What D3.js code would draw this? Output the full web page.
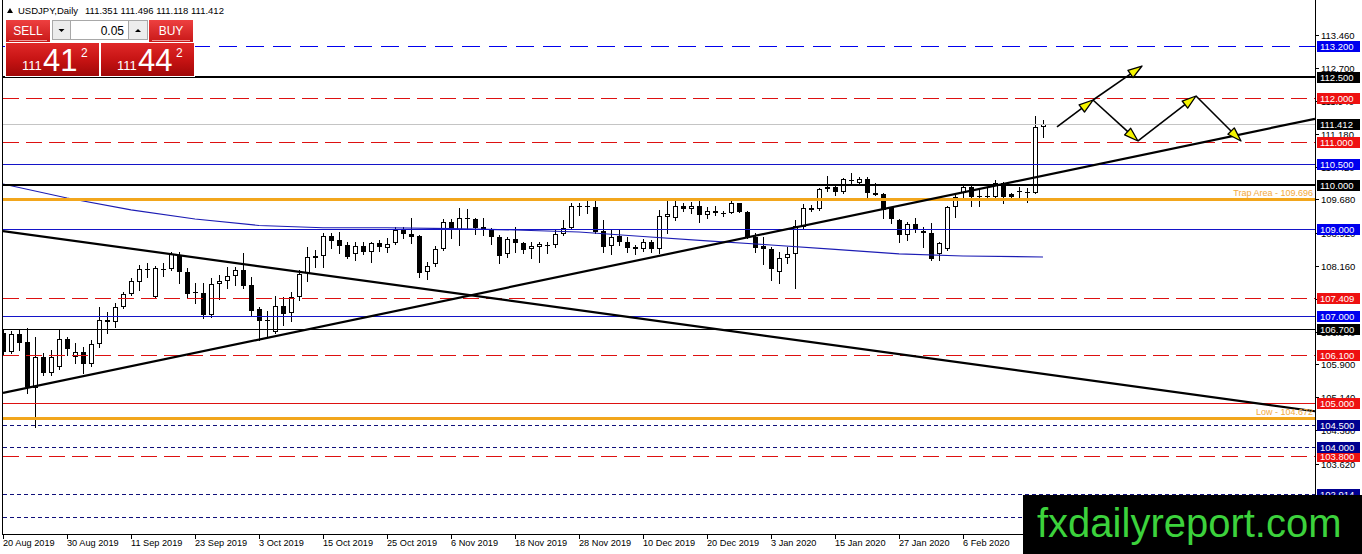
<!DOCTYPE html>
<html>
<head>
<meta charset="utf-8">
<script src="https://cdn.jsdelivr.net/npm/d3@7"></script>
<style>
  body { margin: 0; background: #fff; }
  svg { display: block; font-family: "Liberation Sans", Arial, sans-serif; }
</style>
</head>
<body>
<div id="chart"></div>
<script>
// Data (USDJPY daily, 20 Aug 2019 - 20 Feb 2020)
const opens = [106.625, 106.190, 106.588, 106.404, 105.349, 106.074, 105.707, 105.845, 106.473, 106.074,
  106.190, 105.900, 106.358, 106.916, 106.863, 107.207, 107.505, 107.794, 108.062, 107.436,
  108.092, 108.078, 108.413, 108.023, 107.558, 107.542, 107.030, 107.734, 107.810, 107.925,
  108.062, 107.718, 107.161, 106.900, 106.647, 107.244, 107.069, 107.450, 107.986, 108.331,
  108.383, 108.849, 108.750, 108.636, 108.422, 108.613, 108.468, 108.675, 108.574, 108.675,
  108.980, 108.881, 108.849, 108.010, 108.200, 108.537, 109.156, 108.980, 109.262, 109.225,
  109.042, 108.996, 108.826, 108.422, 108.773, 108.675, 108.537, 108.590, 108.624, 108.636,
  108.881, 109.019, 109.530, 109.523, 109.500, 108.957, 108.613, 108.842, 108.711, 108.583,
  108.537, 108.711, 108.537, 109.285, 109.248, 109.530, 109.461, 109.530, 109.324, 109.422,
  109.363, 109.377, 109.592, 109.400, 108.826, 108.613, 108.537, 108.023, 108.331, 108.422,
  109.055, 109.491, 109.454, 109.913, 109.973, 109.858, 110.127, 110.051, 110.143, 109.835,
  109.798, 109.477, 109.209, 108.865, 109.110, 108.957, 108.918, 108.429, 108.537, 109.500,
  109.835, 109.959, 109.760, 109.744, 109.744, 110.051, 109.798, 109.858, 109.844, 109.835,
  111.351];
const highs = [106.686, 106.663, 106.686, 106.725, 106.526, 106.159, 106.227, 106.686, 106.519, 106.395,
  106.289, 106.457, 107.221, 107.106, 107.299, 107.565, 107.872, 108.177, 108.230, 108.154,
  108.223, 108.475, 108.475, 108.108, 107.771, 107.764, 107.872, 107.948, 108.138, 108.138,
  108.459, 107.895, 107.221, 107.122, 107.466, 107.450, 107.565, 108.062, 108.597, 108.521,
  108.904, 108.904, 108.927, 108.711, 108.711, 108.711, 108.711, 108.750, 108.789, 109.055,
  109.055, 109.262, 108.865, 108.253, 108.620, 109.232, 109.232, 109.477, 109.461, 109.262,
  109.262, 109.019, 108.865, 108.826, 109.055, 108.711, 108.711, 108.711, 108.711, 108.980,
  109.209, 109.592, 109.592, 109.668, 109.668, 109.209, 108.980, 108.980, 108.826, 108.636,
  108.766, 108.750, 109.438, 109.668, 109.668, 109.592, 109.629, 109.668, 109.514, 109.530,
  109.422, 109.668, 109.606, 109.422, 108.904, 108.826, 108.597, 108.482, 108.597, 109.209,
  109.576, 109.553, 109.936, 110.218, 110.012, 110.166, 110.280, 110.202, 110.202, 110.065,
  109.835, 109.514, 109.225, 109.170, 109.248, 109.055, 109.133, 108.711, 109.530, 109.821,
  110.012, 110.012, 109.936, 109.959, 110.127, 110.088, 109.821, 109.959, 109.936, 111.594,
  111.496];
const lows = [106.113, 106.160, 106.227, 105.234, 104.450, 105.654, 105.654, 105.785, 106.113, 105.922,
  105.707, 105.861, 106.303, 106.610, 106.748, 107.184, 107.489, 107.604, 107.895, 107.420,
  107.925, 108.062, 107.771, 107.443, 107.299, 106.955, 106.978, 107.390, 107.643, 107.718,
  107.643, 107.030, 106.457, 106.532, 106.617, 106.801, 106.900, 107.374, 107.810, 108.138,
  108.138, 108.560, 108.445, 108.338, 108.292, 108.422, 108.253, 108.498, 108.482, 108.652,
  108.803, 108.675, 107.909, 107.856, 108.154, 108.520, 108.803, 108.636, 109.019, 108.881,
  108.865, 108.652, 108.230, 108.367, 108.468, 108.445, 108.331, 108.253, 108.445, 108.597,
  108.865, 108.996, 109.324, 109.377, 108.904, 108.482, 108.429, 108.636, 108.482, 108.429,
  108.505, 108.482, 108.445, 108.918, 109.209, 109.422, 109.377, 109.170, 109.248, 109.324,
  109.301, 109.363, 109.386, 108.789, 108.482, 108.200, 107.833, 107.757, 108.216, 107.643,
  109.025, 109.416, 109.438, 109.881, 109.782, 109.821, 110.051, 110.035, 109.744, 109.771,
  109.248, 109.147, 108.711, 108.750, 108.941, 108.583, 108.292, 108.292, 108.521, 109.285,
  109.744, 109.530, 109.530, 109.707, 109.729, 109.606, 109.729, 109.707, 109.629, 109.821,
  111.118];
const closes = [106.190, 106.595, 106.395, 105.386, 106.074, 105.693, 106.074, 106.473, 106.243, 106.190,
  105.900, 106.358, 106.916, 106.877, 107.221, 107.512, 107.817, 108.078, 108.074, 108.101,
  108.069, 108.422, 108.010, 107.512, 107.535, 107.030, 107.741, 107.817, 107.925, 108.062,
  107.695, 107.129, 106.893, 106.916, 107.244, 107.053, 107.450, 107.971, 108.354, 108.383,
  108.849, 108.734, 108.613, 108.367, 108.613, 108.468, 108.675, 108.597, 108.652, 108.980,
  108.881, 108.826, 107.986, 108.154, 108.537, 109.156, 108.980, 109.262, 109.250, 109.032,
  108.996, 108.812, 108.390, 108.766, 108.675, 108.521, 108.613, 108.659, 108.636, 108.881,
  109.019, 109.530, 109.519, 109.530, 108.941, 108.597, 108.826, 108.711, 108.560, 108.537,
  108.711, 108.537, 109.301, 109.347, 109.530, 109.461, 109.530, 109.324, 109.422, 109.363,
  109.370, 109.592, 109.400, 108.826, 108.560, 108.537, 108.078, 108.331, 108.422, 109.071,
  109.477, 109.438, 109.913, 109.959, 109.858, 110.143, 110.120, 110.149, 109.835, 109.782,
  109.438, 109.225, 108.865, 109.110, 108.980, 108.918, 108.308, 108.675, 109.500, 109.744,
  109.959, 109.729, 109.729, 109.753, 110.051, 109.744, 109.744, 109.862, 109.851, 111.351,
  111.412];

// Date labels on the time axis and the bar they belong to
const dateLabels = ['20 Aug 2019', '30 Aug 2019', '11 Sep 2019', '23 Sep 2019', '3 Oct 2019', '15 Oct 2019',
  '25 Oct 2019', '6 Nov 2019', '18 Nov 2019', '28 Nov 2019', '10 Dec 2019', '20 Dec 2019',
  '3 Jan 2020', '15 Jan 2020', '27 Jan 2020', '6 Feb 2020'];
const dateBars = [0, 8, 16, 24, 32, 40, 48, 56, 64, 72, 80, 88, 96, 104, 112, 120];

// Price axis ticks
const priceTicks = [113.46, 112.70, 111.94, 111.18, 110.42, 109.68, 108.92, 108.16, 107.40, 106.64,
  105.90, 105.14, 104.38, 103.62, 102.86];

// Moving average, read at the label bars
const maBars = [0, 8, 16, 24, 32, 40, 48, 56, 64, 72, 80, 88, 96, 104, 112, 120, 130];
const maValues = [110.035, 109.714, 109.440, 109.232, 109.083, 109.030, 109.030, 109.010, 108.980,
  108.934, 108.830, 108.728, 108.636, 108.533, 108.430, 108.383, 108.360];

// Horizontal levels
const blueDashLevels = [113.2];
const blackThickLevels = [112.5, 110.0];
const redDashLevels = [112.0, 111.0, 107.409, 106.1, 103.8];
const currentPrice = [111.412];
const blueLevels = [110.5, 109.0, 107.0];
const blackThinLevels = [106.7];
const redSolidLevels = [105.0];
const navyDotLevels = [104.5, 104.0, 102.914, 102.4];
const orangeLevels = [109.696, 104.672];
const orangeNames = ['Trap Area', 'Low'];

// Trend lines: two anchor bars and prices each
const trendBars = [0, 130];
const trendUpPrices = [105.239, 110.226];
const trendDownPrices = [108.954, 105.677];

// Projected path arrows (bar, price) pairs
const arrowFromBar = [131.75, 136.25, 136.25, 141.875, 149.125];
const arrowFromPrice = [111.342, 111.961, 111.961, 111.021, 112.053];
const arrowToBar = [136.25, 142.375, 141.875, 149.125, 154.75];
const arrowToPrice = [111.961, 112.741, 111.021, 112.053, 111.021];

// Header and trade panel text
const symbolTitle = 'USDJPY,Daily';
const ohlcTitle = '111.351 111.496 111.118 111.412';
const lotSize = '0.05';
const quoteBig = ['111', '41', '2', '111', '44', '2'];

const W = 1362, H = 554;
const plotLeft = 3, plotRight = 1315, plotBottom = 534;

const svg = d3.select('#chart').append('svg')
    .attr('width', W)
    .attr('height', H);

const x = d3.scaleLinear().domain([0, 130]).range([3, 1043]);
const y = d3.scaleLinear().domain([104, 113.2]).range([447, 46]);
const fmt = d3.format('.3f');

svg.append('defs').append('clipPath').attr('id', 'plot-clip')
    .append('rect')
    .attr('x', plotLeft).attr('y', 0)
    .attr('width', plotRight - plotLeft).attr('height', plotBottom);

const plot = svg.append('g').attr('clip-path', 'url(#plot-clip)');

// Candles
const bars = d3.range(closes.length).map(i => ({ i, o: opens[i], h: highs[i], l: lows[i], c: closes[i] }));
bars.forEach(d => {
    d.cx = Math.round(x(d.i));
    d.top = Math.round(y(Math.max(d.o, d.c)));
    d.bot = Math.round(y(Math.min(d.o, d.c)));
});

const candles = plot.append('g').attr('shape-rendering', 'crispEdges');

candles.selectAll('.wick')
    .data(bars)
    .enter().append('line')
    .attr('class', 'wick')
    .attr('x1', d => d.cx + 0.5)
    .attr('x2', d => d.cx + 0.5)
    .attr('y1', d => Math.round(y(d.h)))
    .attr('y2', d => Math.round(y(d.l)) + 1)
    .attr('stroke', '#000');

candles.selectAll('.doji')
    .data(bars.filter(d => d.bot - d.top < 2))
    .enter().append('rect')
    .attr('class', 'doji')
    .attr('x', d => d.cx - 2)
    .attr('y', d => d.top)
    .attr('width', 5)
    .attr('height', d => Math.max(d.bot - d.top, 1))
    .attr('fill', '#000');

candles.selectAll('.bull')
    .data(bars.filter(d => d.bot - d.top >= 2 && d.c >= d.o))
    .enter().append('rect')
    .attr('class', 'bull')
    .attr('x', d => d.cx - 1.5)
    .attr('y', d => d.top + 0.5)
    .attr('width', 4)
    .attr('height', d => d.bot - d.top - 1)
    .attr('fill', '#fff')
    .attr('stroke', '#000');

candles.selectAll('.bear')
    .data(bars.filter(d => d.bot - d.top >= 2 && d.c < d.o))
    .enter().append('rect')
    .attr('class', 'bear')
    .attr('x', d => d.cx - 2)
    .attr('y', d => d.top)
    .attr('width', 5)
    .attr('height', d => d.bot - d.top)
    .attr('fill', '#000');

// Moving average
plot.append('path')
    .datum(maBars.map((b, k) => [b, maValues[k]]))
    .attr('fill', 'none')
    .attr('stroke', '#1c1cb4')
    .attr('stroke-width', 1.1)
    .attr('d', d3.line().x(d => x(d[0])).y(d => y(d[1])));

// Horizontal levels
function drawLevels(levels, color, width, dash) {
    plot.selectAll(null)
        .data(levels)
        .enter().append('line')
        .attr('x1', plotLeft)
        .attr('x2', plotRight)
        .attr('y1', d => Math.round(y(d)) + (width % 2 ? 0.5 : 0))
        .attr('y2', d => Math.round(y(d)) + (width % 2 ? 0.5 : 0))
        .attr('stroke', color)
        .attr('stroke-width', width)
        .attr('stroke-dasharray', dash)
        .attr('shape-rendering', 'crispEdges');
}

drawLevels(currentPrice, '#c4c4c4', 1, null);
drawLevels(blueDashLevels, '#0000ee', 1, '18,9');
drawLevels(redDashLevels, '#dd1111', 1, '16,7');
drawLevels(blueLevels, '#1414c8', 1, null);
drawLevels(blackThinLevels, '#000', 1, null);
drawLevels(redSolidLevels, '#dd1111', 1, null);
drawLevels(navyDotLevels, '#10107a', 1, '4,3');
drawLevels(blackThickLevels, '#000', 2, null);
drawLevels(orangeLevels, '#f2a61c', 3, null);

// Trend lines, extended across the chart
function drawTrend(prices) {
    const slope = (prices[1] - prices[0]) / (trendBars[1] - trendBars[0]);
    const b0 = x.invert(plotLeft), b1 = x.invert(plotRight);
    plot.append('line')
        .attr('x1', x(b0))
        .attr('y1', y(prices[0] + slope * (b0 - trendBars[0])))
        .attr('x2', x(b1))
        .attr('y2', y(prices[0] + slope * (b1 - trendBars[0])))
        .attr('stroke', '#000')
        .attr('stroke-width', 2.2);
}
drawTrend(trendUpPrices);
drawTrend(trendDownPrices);

// Level captions
plot.selectAll('.caption')
    .data(orangeLevels)
    .enter().append('text')
    .attr('class', 'caption')
    .attr('x', plotRight - 2)
    .attr('y', d => Math.round(y(d)) - 3)
    .attr('text-anchor', 'end')
    .style('font-size', '9px')
    .attr('fill', '#f2a93a')
    .text((d, k) => `${orangeNames[k]} - ${fmt(d)}`);

// Arrows
const arrows = svg.append('g');
arrowFromBar.forEach((b, k) => {
    const ax = x(b), ay = y(arrowFromPrice[k]);
    const bx = x(arrowToBar[k]), by = y(arrowToPrice[k]);
    const len = Math.hypot(bx - ax, by - ay);
    const ux = (bx - ax) / len, uy = (by - ay) / len;
    const hl = 14, hw = 4.5;
    const baseX = bx - ux * hl, baseY = by - uy * hl;
    arrows.append('line')
        .attr('x1', ax).attr('y1', ay)
        .attr('x2', baseX + ux * 2).attr('y2', baseY + uy * 2)
        .attr('stroke', '#000')
        .attr('stroke-width', 1.6);
    arrows.append('polygon')
        .attr('points', [[bx, by], [baseX - uy * hw, baseY + ux * hw], [baseX + uy * hw, baseY - ux * hw]].map(p => p.join(',')).join(' '))
        .attr('fill', '#f4f400')
        .attr('stroke', '#000')
        .attr('stroke-width', 1.3)
        .attr('stroke-linejoin', 'round');
});

// Frame and axes
svg.append('line')
    .attr('x1', 2.5).attr('x2', 2.5).attr('y1', 0).attr('y2', plotBottom)
    .attr('stroke', '#000');
svg.append('line')
    .attr('x1', plotRight + 0.5).attr('x2', plotRight + 0.5).attr('y1', 0).attr('y2', plotBottom + 1)
    .attr('stroke', '#000');
svg.append('line')
    .attr('x1', 2).attr('x2', plotRight + 1).attr('y1', plotBottom + 0.5).attr('y2', plotBottom + 0.5)
    .attr('stroke', '#000');

const timeAxis = svg.append('g');
timeAxis.selectAll('line')
    .data(dateBars)
    .enter().append('line')
    .attr('x1', d => Math.round(x(d)) + 0.5)
    .attr('x2', d => Math.round(x(d)) + 0.5)
    .attr('y1', plotBottom)
    .attr('y2', plotBottom + 5)
    .attr('stroke', '#000');
timeAxis.selectAll('text')
    .data(dateBars)
    .enter().append('text')
    .attr('x', d => x(d))
    .attr('y', 546)
    .style('font-size', '9.2px')
    .attr('fill', '#000')
    .text((d, k) => dateLabels[k]);

const priceAxis = svg.append('g');
priceAxis.selectAll('line')
    .data(priceTicks)
    .enter().append('line')
    .attr('x1', plotRight)
    .attr('x2', plotRight + 4)
    .attr('y1', d => Math.round(y(d)) + 0.5)
    .attr('y2', d => Math.round(y(d)) + 0.5)
    .attr('stroke', '#000');
priceAxis.selectAll('text')
    .data(priceTicks)
    .enter().append('text')
    .attr('x', plotRight + 6)
    .attr('y', d => Math.round(y(d)) + 4)
    .style('font-size', '9.5px')
    .attr('fill', '#000')
    .text(d => fmt(d));

// Price tags on the axis
function drawTags(levels, bg) {
    const tags = svg.append('g').selectAll('g')
        .data(levels)
        .enter().append('g');
    tags.append('rect')
        .attr('x', plotRight + 2)
        .attr('y', d => Math.round(y(d)) - 5)
        .attr('width', 43)
        .attr('height', 11)
        .attr('fill', bg);
    tags.append('text')
        .attr('x', plotRight + 5)
        .attr('y', d => Math.round(y(d)) + 4)
        .style('font-size', '9.5px')
        .attr('fill', '#fff')
        .text(d => fmt(d));
}
drawTags(blueDashLevels, '#0000ee');
drawTags(blackThickLevels, '#000');
drawTags(redDashLevels, '#ee1111');
drawTags(currentPrice, '#000');
drawTags(blueLevels, '#0000ee');
drawTags(blackThinLevels, '#000');
drawTags(redSolidLevels, '#ee1111');
drawTags(navyDotLevels, '#000090');

// Title
svg.append('path')
    .attr('d', 'M7,13 L10,8 L13,13 Z')
    .attr('fill', '#000');
svg.append('text')
    .attr('x', 18).attr('y', 14)
    .style('font-size', '9.5px')
    .text(symbolTitle);
svg.append('text')
    .attr('x', 85).attr('y', 14)
    .style('font-size', '9.5px')
    .text(ohlcTitle);

// One-click trading panel
const defs = svg.select('defs');
const g1 = defs.append('linearGradient').attr('id', 'btnRed').attr('x1', 0).attr('x2', 0).attr('y1', 0).attr('y2', 1);
g1.append('stop').attr('offset', '0%').attr('stop-color', '#ee4040');
g1.append('stop').attr('offset', '100%').attr('stop-color', '#c81818');
const g2 = defs.append('linearGradient').attr('id', 'bigRed').attr('x1', 0).attr('x2', 0).attr('y1', 0).attr('y2', 1);
g2.append('stop').attr('offset', '0%').attr('stop-color', '#e02828');
g2.append('stop').attr('offset', '55%').attr('stop-color', '#c41212');
g2.append('stop').attr('offset', '100%').attr('stop-color', '#a00808');

const panel = svg.append('g');
panel.append('rect').attr('x', 5).attr('y', 19).attr('width', 190).attr('height', 58).attr('fill', '#fff');

[[6, 'SELL'], [149, 'BUY']].forEach(([bx, label]) => {
    panel.append('rect').attr('x', bx).attr('y', 20).attr('width', 44).attr('height', 22).attr('fill', 'url(#btnRed)');
    panel.append('line').attr('x1', bx + 3).attr('x2', bx + 41).attr('y1', 40.5).attr('y2', 40.5)
        .attr('stroke', '#f19a9a').attr('stroke-width', 1);
    panel.append('text').attr('x', bx + 22).attr('y', 35).attr('text-anchor', 'middle')
        .style('font-size', '12px').attr('fill', '#fff').text(label);
});

panel.append('rect').attr('x', 52.5).attr('y', 20.5).attr('width', 18).attr('height', 19)
    .attr('fill', '#ececec').attr('stroke', '#a8a8a8');
panel.append('path').attr('d', 'M58.5,29 L64.5,29 L61.5,32 Z').attr('fill', '#000');
panel.append('rect').attr('x', 70.5).attr('y', 20.5).attr('width', 58).attr('height', 19)
    .attr('fill', '#fff').attr('stroke', '#a8a8a8');
panel.append('text').attr('x', 124).attr('y', 35).attr('text-anchor', 'end')
    .style('font-size', '12px').attr('fill', '#000').text(lotSize);
panel.append('rect').attr('x', 128.5).attr('y', 20.5).attr('width', 19).attr('height', 19)
    .attr('fill', '#ececec').attr('stroke', '#a8a8a8');
panel.append('path').attr('d', 'M135,32 L141,32 L138,29 Z').attr('fill', '#000');

[6, 101].forEach((bx, k) => {
    panel.append('rect').attr('x', bx).attr('y', 43).attr('width', 93).attr('height', 33).attr('fill', 'url(#bigRed)');
    panel.append('text').attr('x', bx + 16).attr('y', 70).style('font-size', '13px')
        .attr('fill', '#fff').text(quoteBig[k * 3]);
    panel.append('text').attr('x', bx + 37).attr('y', 71).style('font-size', '31px')
        .attr('fill', '#fff').text(quoteBig[k * 3 + 1]);
    panel.append('text').attr('x', bx + 75).attr('y', 57).style('font-size', '12px')
        .attr('fill', '#fff').text(quoteBig[k * 3 + 2]);
});

// Watermark
svg.append('rect').attr('x', 1023).attr('y', 495).attr('width', W - 1023).attr('height', H - 495).attr('fill', '#000');
svg.append('text')
    .attr('x', 1037).attr('y', 537)
    .style('font-size', '40px')
    .attr('fill', '#3cd23c')
    .text('fxdailyreport.com');
</script>
</body>
</html>
